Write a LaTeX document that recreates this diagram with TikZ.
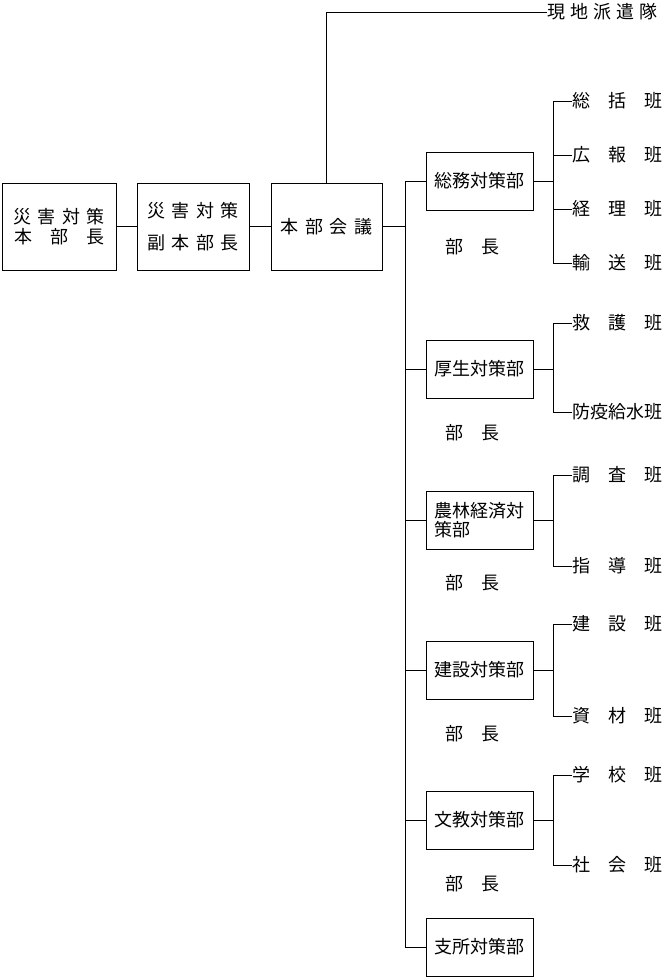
\documentclass[tikz,border=0pt]{standalone}
\usepackage{fontspec}
\setmainfont{Noto Sans CJK JP}
\usepackage{tikz}

\newcommand{\gp}{\hspace{6.5pt}}

\begin{document}
\begin{tikzpicture}[x=1pt,y=-1pt,
    every node/.style={font=\fontsize{18}{20}\selectfont, inner sep=0pt},
    box/.style={draw, line width=0.8pt},
    dept/.style={box, minimum width=107pt, minimum height=58pt, align=left},
    link/.style={line width=0.8pt}]
    \useasboundingbox (0,0) rectangle (666,978);
    % head boxes
    \node[box, minimum width=114pt, minimum height=87pt, align=center] (chief) at (59,226.5) {災\gp 害\gp 対\gp 策\\本　部　長};
    \node[box, minimum width=112pt, minimum height=87pt, align=center] (vice) at (193,226.5) {災\gp 害\gp 対\gp 策\\[12pt]副\gp 本\gp 部\gp 長};
    \node[box, minimum width=111pt, minimum height=87pt] (council) at (326.5,226.5) {本\gp 部\gp 会\gp 議};
    \draw[link] (chief) -- (vice);
    \draw[link] (vice) -- (council);
    % field team
    \node[anchor=west] (field) at (547,12) {現\hspace{5pt}地\hspace{5pt}派\hspace{5pt}遣\hspace{5pt}隊};
    \draw[link] (council.north) -- (council.north |- field) -- (field.west);
    % departments
    \coordinate (trunk) at (405,0);
    \coordinate (bar) at (553,0);
    \foreach \dept/\y/\txt in {soumu/181/総務対策部, kousei/369/厚生対策部, nourin/520/{農林経済対\\[-1pt]策部},
        kensetsu/670/建設対策部, bunkyo/820/文教対策部, shisho/947/支所対策部}
    {
        \node[dept] (\dept) at (479.5,\y) {\txt};
        \draw[link] (\dept.west -| trunk) -- (\dept.west);
    }
    \draw[link] (council.east) -- (council.east -| trunk);
    \draw[link] (soumu.west -| trunk) -- (shisho.west -| trunk);
    \foreach \dept/\y in {soumu/247, kousei/433, nourin/583, kensetsu/734, bunkyo/884}
    \node (\dept-head) at (472,\y) {部　長};
    % sections
    \foreach \sub/\y/\txt in {soumu-a/101/総　括　班, soumu-b/155/広　報　班, soumu-c/209/経　理　班, soumu-d/263/輸　送　班,
        kousei-a/323/救　護　班, kousei-b/412/防疫給水班, nourin-a/475/調　査　班, nourin-b/566/指　導　班,
        kensetsu-a/624/建　設　班, kensetsu-b/716/資　材　班, bunkyo-a/775/学　校　班, bunkyo-b/865/社　会　班}
    \node[anchor=west] (\sub) at (572,\y) {\txt};
    \foreach \dept/\first/\last in {soumu/soumu-a/soumu-d, kousei/kousei-a/kousei-b, nourin/nourin-a/nourin-b,
        kensetsu/kensetsu-a/kensetsu-b, bunkyo/bunkyo-a/bunkyo-b}
    {
        \draw[link] (\first.west) -- (\first.west -| bar) -- (\last.west -| bar) -- (\last.west);
        \draw[link] (\dept.east) -- (\dept.east -| bar);
    }
    \draw[link] (soumu-b.west) -- (soumu-b.west -| bar);
    \draw[link] (soumu-c.west) -- (soumu-c.west -| bar);
\end{tikzpicture}
\end{document}
